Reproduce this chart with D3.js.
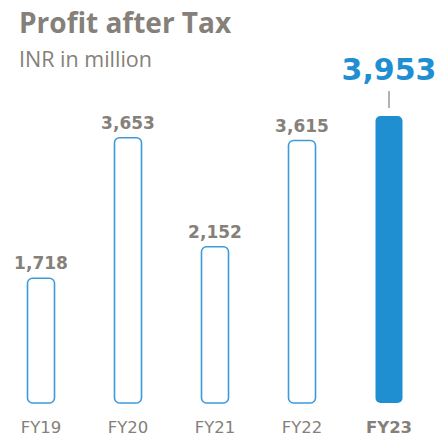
<!DOCTYPE html>
<html><head><meta charset="utf-8">
<script src="https://cdn.jsdelivr.net/npm/d3@7"></script>
<style>html,body{margin:0;padding:0;background:#fff;}</style>
</head><body>
<script>
const categories = ["FY19","FY20","FY21","FY22","FY23"];
const values = [1718, 3653, 2152, 3615, 3953];
const valueLabels = ["1,718","3,653","2,152","3,615","3,953"];
const highlight = "FY23";
const title = "Profit after Tax";
const subtitle = "INR in million";

const W = 439, H = 438;
const gray = "#858079", blue = "#1f8fd1", stroke = "#3b9bdb";
const font = "'Open Sans', sans-serif";
const numFont = "'DejaVu Sans', sans-serif";
const svg = d3.select("body").append("svg").attr("width", W).attr("height", H);

const x = d3.scalePoint().domain(categories).range([41, 389]);
const y = d3.scaleLinear().domain([0, 3953]).range([403, 116]);
const bw = 27;

svg.append("text").attr("x", 19).attr("y", 33).attr("fill", gray)
  .attr("font-family", font).attr("font-weight", 700).attr("font-size", 28).text(title);
svg.append("text").attr("x", 19).attr("y", 67).attr("fill", gray)
  .attr("font-family", font).attr("font-weight", 400).attr("font-size", 21.5).text(subtitle);

const data = categories.map((c,i)=>({c, v: values[i], l: valueLabels[i]}));

svg.selectAll("rect.bar").data(data).join("rect")
  .attr("x", d => x(d.c) - bw/2)
  .attr("y", d => y(d.v))
  .attr("width", bw)
  .attr("height", d => y(0) - y(d.v))
  .attr("rx", 5)
  .attr("fill", d => d.c===highlight ? blue : "#fff")
  .attr("stroke", d => d.c===highlight ? "none" : stroke)
  .attr("stroke-width", 1.6);

svg.selectAll("text.val").data(data.filter(d=>d.c!==highlight)).join("text")
  .attr("x", d => x(d.c)).attr("y", d => y(d.v) - 9)
  .attr("text-anchor","middle").attr("fill", gray)
  .attr("font-family", numFont).attr("font-weight", 700).attr("font-size", 17)
  .text(d => d.l);

const hd = data.find(d=>d.c===highlight);
svg.append("line").attr("x1", x(hd.c)).attr("x2", x(hd.c))
  .attr("y1", y(hd.v) - 25).attr("y2", y(hd.v) - 8)
  .attr("stroke", "#999").attr("stroke-width", 1.5);
svg.append("text").attr("x", x(hd.c)).attr("y", y(hd.v) - 36)
  .attr("text-anchor","middle").attr("fill", blue)
  .attr("font-family", numFont).attr("font-weight", 700).attr("font-size", 30)
  .text(hd.l);

svg.selectAll("text.cat").data(categories).join("text")
  .attr("x", d => x(d)).attr("y", 433)
  .attr("text-anchor","middle").attr("fill", gray)
  .attr("font-family", numFont).attr("font-weight", d => d===highlight?700:400).attr("font-size", 16.5)
  .text(d => d);
</script>
</body></html>
